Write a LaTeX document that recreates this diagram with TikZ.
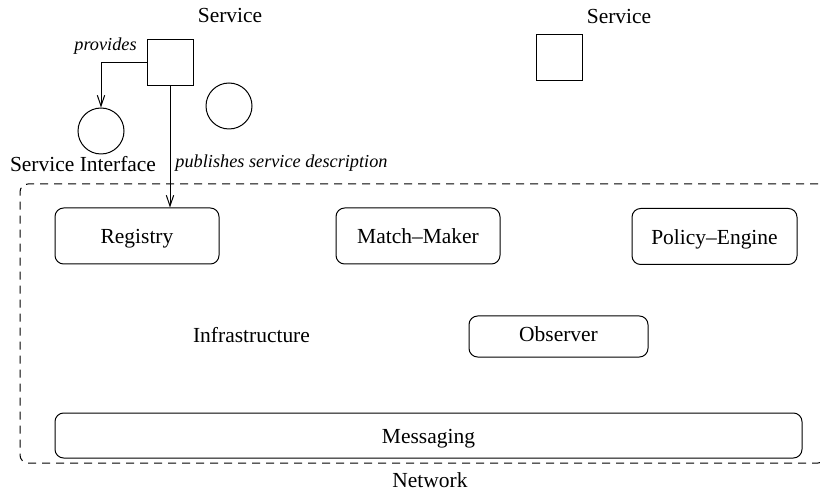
\documentclass[tikz,border=0pt]{standalone}
\usepackage{fontspec}
\setmainfont{Liberation Serif}
\usetikzlibrary{arrows.meta}
\begin{document}
\begin{tikzpicture}[x=0.75pt,y=-0.75pt,
  every node/.style={font=\fontsize{16.1}{19}\selectfont},
  lbl/.style={anchor=base, inner sep=0pt},
  ilbl/.style={anchor=base, inner sep=0pt, font=\fontsize{13.7}{16}\selectfont\itshape},
  svcbox/.style={draw, line width=0.75pt, minimum width=34.5pt, minimum height=34pt, inner sep=0pt},
  iface/.style={draw, circle, line width=0.75pt, minimum size=34.5pt, inner sep=0pt},
  comp/.style={draw, line width=0.75pt, rounded corners=6.5pt, inner sep=0pt,
     text height=12pt, text depth=0pt, minimum height=42pt, minimum width=123pt},
  netbox/.style={draw, dashed, dash pattern=on 6pt off 4.5pt, line width=0.75pt, rounded corners=6pt,
     inner sep=0pt, minimum width=604.5pt, minimum height=209.25pt},
  arr/.style={-{Straight Barb[length=8pt,width=5.5pt]}, line width=0.75pt}
]
\useasboundingbox (0,0) rectangle (820,491);

% network container
\node[netbox] (net) at (423,323.5) {};
\node[lbl] (netlbl) at (430,487) {Network};

% services
\node[lbl] (svc1lbl) at (230,23) {Service};
\node[svcbox] (sq1) at (170,62.5) {};
\node[lbl] (svc2lbl) at (619,24) {Service};
\node[svcbox] (sq2) at (559,57.5) {};

% interfaces
\node[iface] (c1) at (101,131) {};
\node[iface] (c2) at (229,106) {};
\node[lbl] (sifl) at (83,172) {Service Interface};
\node[ilbl] (prov) at (105.5,51) {provides};
\node[ilbl] (pub) at (281.5,168) {publishes service description};

% components
\node[comp] (reg) at (137,236) {Registry};
\node[comp] (mm) at (418,236) {Match--Maker};
\node[comp, minimum width=123.75pt] (pe) at (714.5,236.5) {Policy--Engine};
\node[comp, minimum width=134.25pt, minimum height=30.75pt, text height=7pt] (obs) at (558.5,336.5) {Observer};
\node[comp, minimum width=560.25pt, minimum height=33.75pt] (msg) at (428.5,435.5) {Messaging};
\node[lbl] (infra) at (251.5,342) {Infrastructure};

% connectors
\draw[arr] (sq1.west) -| (c1.north);
\draw[arr] (sq1.south) -- (sq1.south |- reg.north);
\end{tikzpicture}
\end{document}
